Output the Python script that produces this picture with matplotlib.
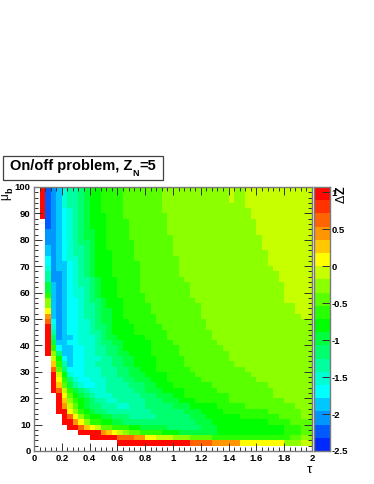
import numpy as np
from matplotlib import pyplot as plt
from matplotlib.colors import ListedColormap, BoundaryNorm
from matplotlib.patches import Rectangle
from matplotlib.ticker import MultipleLocator, FixedLocator

plt.rcParams['font.family'] = ['Liberation Sans', 'DejaVu Sans']
plt.rcParams['font.weight'] = 'bold'

W, H = 374, 484

# palette of the z axis, bottom to top
palette = ['#0028ff', '#005aff', '#0096ff', '#00c8ff', '#00ffff',
           '#00ffd2', '#00ffa0', '#00ff6e', '#00ff3c', '#00ff00',
           '#28ff00', '#5aff00', '#8cff00', '#c8ff00', '#ffff00',
           '#ffc800', '#ff9600', '#ff6400', '#ff3200', '#ff0800']
z_min, z_max = -2.5, 1.07
tau_edges = np.linspace(0, 2, 51)
mu_edges = np.linspace(0, 100, 51)
z_edges = np.linspace(z_min, z_max, 21)
x_ticklabels = ['0', '0.2', '0.4', '0.6', '0.8', '1', '1.2', '1.4', '1.6', '1.8', '2']
z_ticks = [-2.5, -2, -1.5, -1, -0.5, 0, 0.5, 1]
z_ticklabels = ['-2.5', '-2', '-1.5', '-1', '-0.5', '0', '0.5', '1']

# Delta Z, one row per mu bin from the top (mu=100) down.
# Letter = colour level a..t, number = tau bin where that level starts. Nothing before the first = empty
rows = [
    't1 b2 c3 d4 f5 g6 h8 i9 j10 k12 l16 m23 n35 m36 n38',
    't1 b2 c3 d4 f5 g6 h8 i9 j10 k12 l16 m23 n35 m36 n38',
    't1 b2 c3 d4 f5 g6 h8 i9 j10 k12 l16 m23 n35 m36 n38',
    't1 b2 c3 d4 f5 g6 h8 i9 j10 k12 l16 m23 n38',
    't1 b2 c3 d4 e5 f6 g7 h8 i9 j10 k12 l16 m23 n39',
    't1 b2 c3 d4 e5 f6 g7 h8 i9 j10 k13 l16 m24 n39',
    'b2 c3 d4 e5 f6 g7 h8 i9 j10 k13 l17 m24 n40',
    'b2 c3 d4 e5 f6 g7 h8 i9 j10 k13 l17 m24 n40',
    'c2 d4 e5 f6 g7 h8 i9 j11 k13 l17 m24 n40',
    'c2 d4 e5 f6 g7 h8 i9 j11 k13 l17 m25 n41',
    'c2 d4 e5 f6 g7 h8 i10 j11 k13 l18 m25 n41',
    'd2 c3 d4 e5 f6 g7 h9 i10 j11 k13 l18 m25 n41',
    'd2 c3 d4 e5 f6 g7 h9 i10 j11 k14 l18 m25 n42',
    'e2 c3 d4 e5 f6 g8 h9 i10 j11 k14 l18 m26 n42',
    'e2 c3 d4 e6 f7 g8 h9 i10 j11 k14 l19 m26 n42',
    'f2 c3 d4 e6 f7 g8 h9 i10 j11 k14 l19 m26 n43',
    'g2 c3 d5 e6 f7 g8 h9 i10 j11 k14 l19 m26 n44',
    'g2 c3 d5 e6 f7 g8 h10 i11 j12 k15 l19 m27 n44',
    'i2 d3 c4 d5 e6 f7 g8 h10 i11 j12 k15 l19 m28 n45',
    'i2 d3 c4 d5 e6 f7 g9 h10 i11 j12 k15 l19 m28 n45',
    'k2 d3 c4 d5 e6 f7 g9 h10 i11 j12 k15 l20 m28 n45',
    'm2 d3 c4 d5 e6 f8 g9 h10 i12 j13 k16 l20 m29 n45',
    'm2 d3 c4 d5 e6 f8 g9 h11 i12 j13 k16 l21 m30 n47',
    'o2 d3 c4 d5 e6 f8 g9 h11 i12 j14 k16 l21 m30 n47',
    'q2 d3 c4 d5 e6 f8 g9 h11 i12 j14 k16 l22 m30 n48',
    'r2 e3 c4 d5 e6 f8 g10 h11 i12 j14 k17 l22 m31',
    't2 f3 c4 d5 e6 f8 g10 h11 i13 j14 k18 l23 m31',
    't2 g3 c4 d5 e6 f8 g10 h12 i13 j14 k18 l24 m32',
    't2 h3 c4 d5 e7 f8 g11 h12 i13 j15 k20 l24 m32',
    't2 i3 d4 e6 f8 g11 h12 i14 j16 k21 l25 m33',
    't2 k3 e4 d5 e7 f9 g11 h13 i15 j16 k21 l26 m34',
    't2 m3 h4 d5 e7 f9 g11 h13 i15 j17 k21 l26 m35',
    'n3 j4 e5 d6 e7 f9 g12 h14 i16 j18 k22 l27 m35',
    'p3 k4 g5 d6 e7 f9 g11 h14 i16 j18 k22 l27 m36',
    'r3 l4 h5 e6 f9 g12 h15 i17 j19 k22 l28 m38',
    't3 n4 j5 f6 e7 f9 g12 h15 i17 j20 k24 l29 m39',
    't3 o4 k5 h6 f7 e8 f10 g13 h16 i18 j21 k24 l30 m40',
    't3 p4 l5 i6 g7 f8 e9 f11 g13 h17 i20 j22 k25 l32 m42',
    't3 r4 n5 k6 i7 h8 g9 f10 g13 h18 i20 j23 k27 l33 m43',
    't4 o5 l6 j7 i8 h9 g10 f11 g14 h19 i22 j25 k27 l35 m43',
    't4 p5 m6 k7 j8 i9 h10 g11 f13 g15 h20 i23 j26 k29 l35 m45',
    't4 q5 n6 l7 j8 i9 h10 g12 f15 g17 h20 i25 j28 k33 l38 m47',
    't4 o6 m7 k8 j9 i10 h11 g13 h21 h24 i27 j30 k34 l42 m48',
    't5 r6 o7 m8 k9 j10 i12 h14 g17 h22 i28 j31 k37 l44 m48',
    't5 q7 o8 m9 k10 j12 i14 h16 i29 j32 k42 l46',
    't6 r8 p9 o10 n11 l12 k14 j17 i19 h24 i30 j33 k45 l48',
    't8 q12 p13 o14 n15 m16 l17 k19 j23 i26 j33 k45 l48',
    't10 r15 q18 o20 n22 m25 l28 k32 l46 m48',
    't15 r28 q32 o37 m45 n48',
    '',
]

# decode rows into the z matrix, bottom row first
step = (z_max - z_min) / 20
delta_z = np.full((50, 50), np.nan)
for k, row in enumerate(rows):
    for tok in row.split():
        level = ord(tok[0]) - ord('a')
        delta_z[49 - k, int(tok[1:]):] = z_min + (level + 0.5) * step
delta_z = np.ma.masked_invalid(delta_z)

cmap = ListedColormap(palette)
norm = BoundaryNorm(z_edges, 20)
frame = '#7a7a7a'


def px_rect(x0, y0, x1, y1):
    return [x0 / W, 1 - y1 / H, (x1 - x0) / W, (y1 - y0) / H]


def put(x, y, s, **kw):
    fig.text(x / W, 1 - y / H, s, **kw)


fig = plt.figure(figsize=(W / 100, H / 100), dpi=100)

ax = fig.add_axes(px_rect(34, 187, 312, 451))
ax.pcolormesh(tau_edges, mu_edges, delta_z, cmap=cmap, norm=norm)
ax.set_xlim(0, 2)
ax.set_ylim(0, 100)
ax.xaxis.set_major_locator(MultipleLocator(0.2))
ax.xaxis.set_minor_locator(MultipleLocator(0.04))
ax.yaxis.set_major_locator(MultipleLocator(10))
ax.yaxis.set_minor_locator(MultipleLocator(2))
ax.set_xticks(np.linspace(0, 2, 11), x_ticklabels)
ax.tick_params(which='major', direction='in', length=5.5, width=0.7, top=True, right=True,
               labelsize=6.8, pad=2.5, color='#303030')
ax.tick_params(which='minor', direction='in', length=2.7, width=0.7, top=True, right=True, color='#303030')
for s in ax.spines.values():
    s.set_color(frame)
    s.set_linewidth(1)

# z axis palette
cax = fig.add_axes(px_rect(313.5, 187, 329.5, 451))
cax.pcolormesh([0, 1], z_edges, (z_edges[:-1] + step / 2).reshape(-1, 1), cmap=cmap, norm=norm)
cax.set_xlim(0, 1)
cax.set_ylim(z_min, z_max)
cax.set_xticks([])
cax.yaxis.tick_right()
cax.yaxis.set_major_locator(FixedLocator(z_ticks))
cax.set_yticklabels(z_ticklabels)
cax.tick_params(direction='in', length=5.5, width=0.7, labelsize=6.8, pad=1.2, color='#303030')
for s in cax.spines.values():
    s.set_color(frame)
    s.set_linewidth(1)

# title box
fig.add_artist(Rectangle((3.5 / W, 1 - 179.5 / H), 159.5 / W, 24 / H, transform=fig.transFigure,
                         facecolor='white', edgecolor='#404040', linewidth=0.9))
put(10, 170, 'On/off problem, Z', fontsize=10.5, ha='left', va='baseline')
put(132.5, 176.5, 'N', fontsize=6.4, ha='left', va='baseline')
put(139.5, 170, '=5', fontsize=10.5, ha='left', va='baseline')

# axis titles
put(309, 473, '\u03c4', fontsize=9.5, ha='center', va='baseline', fontweight='normal')
put(5, 196.5, '\u03bc', fontsize=8.5, rotation=90, ha='center', va='center', fontweight='normal')
put(10, 190, 'b', fontsize=6.5, rotation=90, ha='center', va='center')
put(341.5, 190.5, 'Z', fontsize=9, rotation=90, ha='center', va='center')
put(341.5, 198.5, '\u0394', fontsize=9, rotation=90, ha='center', va='center', fontweight='normal')

fig.savefig('out.png', dpi=100)
